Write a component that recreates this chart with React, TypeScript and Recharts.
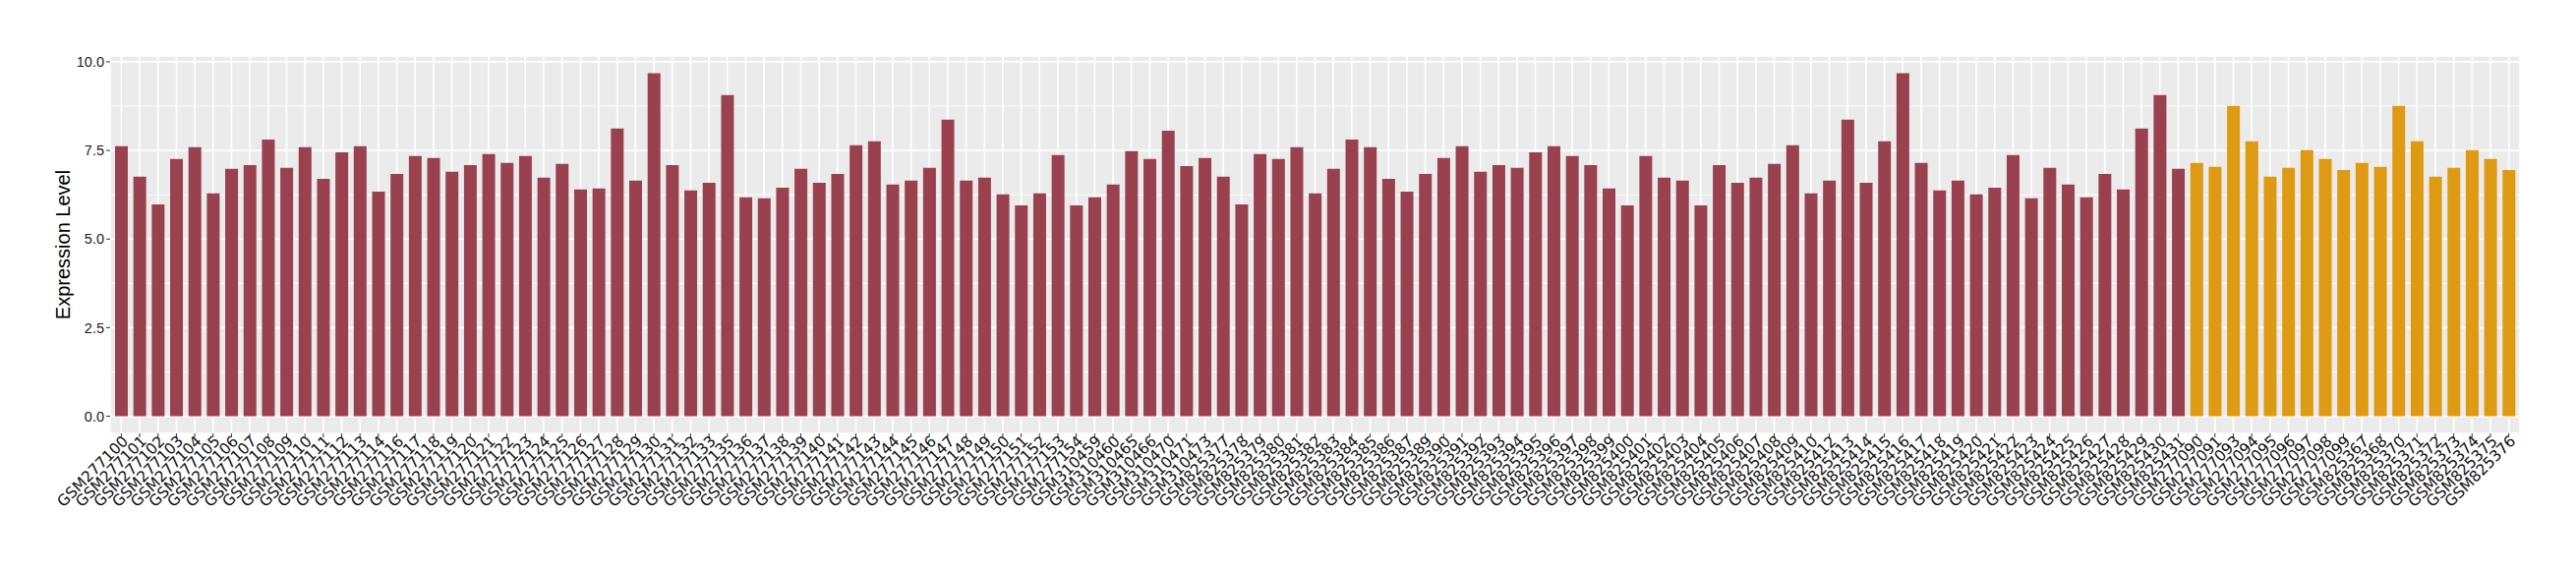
import { BarChart, Bar, XAxis, YAxis, CartesianGrid, Cell } from 'recharts'

// ---------------------------------------------------------------------------
// Data
// ---------------------------------------------------------------------------

const redSamples = [
  'GSM277100', 'GSM277101', 'GSM277102', 'GSM277103', 'GSM277104', 'GSM277105', 'GSM277106',
  'GSM277107', 'GSM277108', 'GSM277109', 'GSM277110', 'GSM277111', 'GSM277112', 'GSM277113',
  'GSM277114', 'GSM277116', 'GSM277117', 'GSM277118', 'GSM277119', 'GSM277120', 'GSM277121',
  'GSM277122', 'GSM277123', 'GSM277124', 'GSM277125', 'GSM277126', 'GSM277127', 'GSM277128',
  'GSM277129', 'GSM277130', 'GSM277131', 'GSM277132', 'GSM277133', 'GSM277135', 'GSM277136',
  'GSM277137', 'GSM277138', 'GSM277139', 'GSM277140', 'GSM277141', 'GSM277142', 'GSM277143',
  'GSM277144', 'GSM277145', 'GSM277146', 'GSM277147', 'GSM277148', 'GSM277149', 'GSM277150',
  'GSM277151', 'GSM277152', 'GSM277153', 'GSM277154',
  'GSM310459', 'GSM310460', 'GSM310465', 'GSM310466', 'GSM310470', 'GSM310471', 'GSM310473',
  'GSM825377', 'GSM825378', 'GSM825379', 'GSM825380', 'GSM825381', 'GSM825382', 'GSM825383',
  'GSM825384', 'GSM825385', 'GSM825386', 'GSM825387', 'GSM825389', 'GSM825390', 'GSM825391',
  'GSM825392', 'GSM825393', 'GSM825394', 'GSM825395', 'GSM825396', 'GSM825397', 'GSM825398',
  'GSM825399', 'GSM825400', 'GSM825401', 'GSM825402', 'GSM825403', 'GSM825404', 'GSM825405',
  'GSM825406', 'GSM825407', 'GSM825408', 'GSM825409', 'GSM825410', 'GSM825412', 'GSM825413',
  'GSM825414', 'GSM825415', 'GSM825416', 'GSM825417', 'GSM825418', 'GSM825419', 'GSM825420',
  'GSM825421', 'GSM825422', 'GSM825423', 'GSM825424', 'GSM825425', 'GSM825426', 'GSM825427',
  'GSM825428', 'GSM825429', 'GSM825430', 'GSM825431',
]

const redValues = [
  7.62, 6.76, 5.98, 7.26, 7.59, 6.29, 6.98, 7.09, 7.81, 7.01, 7.59, 6.70, 7.45, 7.62,
  6.34, 6.84, 7.34, 7.29, 6.90, 7.09, 7.40, 7.15, 7.34, 6.73, 7.12, 6.40, 6.43, 8.12,
  6.65, 9.68, 7.09, 6.37, 6.59, 9.06, 6.18, 6.15, 6.45, 6.98, 6.59, 6.84, 7.65, 7.76,
  6.54, 6.65, 7.01, 8.37, 6.65, 6.73, 6.26, 5.95, 6.29, 7.37, 5.95,
  6.18, 6.54, 7.48, 7.26, 8.06, 7.06, 7.29,
  6.76, 5.98, 7.40, 7.26, 7.59, 6.29, 6.98, 7.81, 7.59, 6.70, 6.34, 6.84, 7.29, 7.62,
  6.90, 7.09, 7.01, 7.45, 7.62, 7.34, 7.09, 6.43, 5.95, 7.34, 6.73, 6.65, 5.95, 7.09,
  6.59, 6.73, 7.12, 7.65, 6.29, 6.65, 8.37, 6.59, 7.76, 9.68, 7.15, 6.37, 6.65, 6.26,
  6.45, 7.37, 6.15, 7.01, 6.54, 6.18, 6.84, 6.40, 8.12, 9.06, 6.98,
]

const orangeSamples = [
  'GSM277090', 'GSM277091', 'GSM277093', 'GSM277094', 'GSM277095', 'GSM277096', 'GSM277097',
  'GSM277098', 'GSM277099', 'GSM825367', 'GSM825368', 'GSM825370', 'GSM825371', 'GSM825372',
  'GSM825373', 'GSM825374', 'GSM825375', 'GSM825376',
]

const orangeValues = [
  7.15, 7.04, 8.76, 7.76, 6.76, 7.01, 7.51, 7.26, 6.95,
  7.15, 7.04, 8.76, 7.76, 6.76, 7.01, 7.51, 7.26, 6.95,
]

const yTicks = [0, 2.5, 5, 7.5, 10]
const yMinor = [1.25, 3.75, 6.25, 8.75]

const RED = '#9a4150'
const ORANGE = '#de9a13'

const data = [
  ...redSamples.map((sample, i) => ({ sample, value: redValues[i], color: RED })),
  ...orangeSamples.map((sample, i) => ({ sample, value: orangeValues[i], color: ORANGE })),
]

const FONT = '"Liberation Sans", Arial, Helvetica, sans-serif'
const LABEL_FONT = '"DejaVu Sans", sans-serif'

// ---------------------------------------------------------------------------
// Rotated sample label (ggplot angle = 45, hjust = 1, vjust = 1)
// ---------------------------------------------------------------------------

function SampleTick({ x, y, payload }: any) {
  const ty = y - 3
  return (
    <text
      x={x}
      y={ty}
      dy="0.72em"
      textAnchor="end"
      transform={`rotate(-45, ${x}, ${ty})`}
      fontFamily={LABEL_FONT}
      fontSize={15.5}
      fill="#111"
    >
      {payload.value}
    </text>
  )
}

function YTitle({ viewBox }: any) {
  const cx = viewBox.x + 63
  const cy = viewBox.y + viewBox.height / 2
  return (
    <text
      x={cx}
      y={cy}
      textAnchor="middle"
      transform={`rotate(-90, ${cx}, ${cy})`}
      fontFamily={FONT}
      fontSize={20}
      fill="#000"
    >
      Expression Level
    </text>
  )
}

// ---------------------------------------------------------------------------
// App
// ---------------------------------------------------------------------------

export default function App() {
  return (
    <div style={{ width: 2604, height: 564, background: '#fff' }}>
      <BarChart
        width={2604}
        height={564}
        data={data}
        margin={{ top: 49, right: 49, left: 0, bottom: 0 }}
        barCategoryGap="16%"
      >
        {/* panel background + minor horizontal grid */}
        <CartesianGrid
          fill="#ebebeb"
          stroke="#ffffff"
          strokeWidth={0.9}
          vertical={false}
          horizontalValues={yMinor}
        />
        {/* major grid */}
        <CartesianGrid stroke="#ffffff" strokeWidth={1.7} />
        <XAxis
          dataKey="sample"
          interval={0}
          height={131}
          padding={{ left: 2, right: 2 }}
          axisLine={false}
          tickLine={{ stroke: '#333333' }}
          tickSize={4}
          tickMargin={0}
          tick={<SampleTick />}
        />
        <YAxis
          width={104}
          type="number"
          domain={[-0.484, 10.165]}
          ticks={yTicks}
          allowDataOverflow
          axisLine={false}
          tickLine={{ stroke: '#333333' }}
          tickSize={4}
          tickMargin={2}
          tickFormatter={(v: number) => v.toFixed(1)}
          tick={{ fontFamily: FONT, fontSize: 14.5, fill: '#1a1a1a' }}
          label={<YTitle />}
        />
        <Bar dataKey="value" isAnimationActive={false}>
          {data.map((d, i) => (
            <Cell key={i} fill={d.color} />
          ))}
        </Bar>
      </BarChart>
    </div>
  )
}
